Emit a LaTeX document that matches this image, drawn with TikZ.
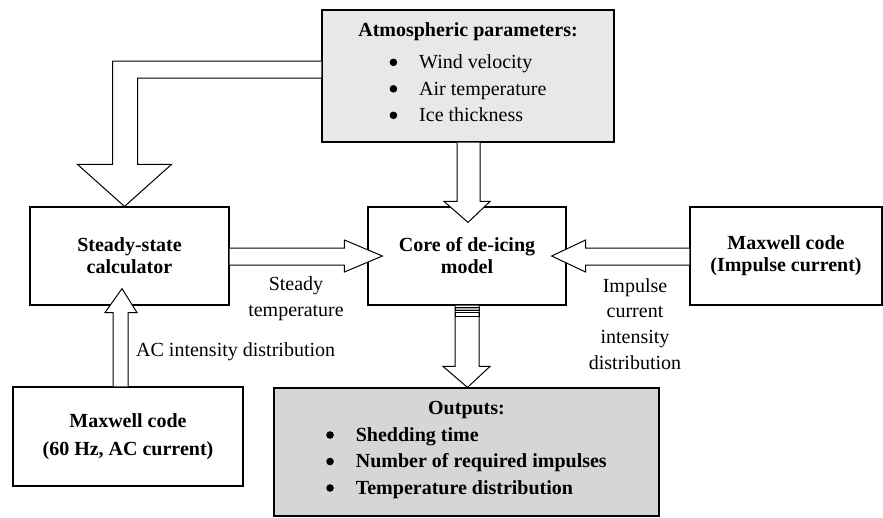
\documentclass[tikz,border=0pt]{standalone}
\usepackage{fontspec}
\setmainfont{Liberation Serif}
\usepackage{tikz}
\usetikzlibrary{calc}
\definecolor{ParamGray}{gray}{0.91}
\definecolor{OutputGray}{gray}{0.84}
\newcommand{\listdot}{\tikz[baseline=-0.32em]\fill[black] (0,0) circle (3.8pt);}
\tikzset{
  % Box styles
  modelbox/.style={rectangle, draw=black, line width=1.2pt, fill=white, inner sep=0pt, align=center, font=\fontsize{20}{22}\selectfont\bfseries},
  parambox/.style={modelbox, fill=ParamGray, font=\fontsize{20}{26.5}\selectfont},
  outputbox/.style={modelbox, fill=OutputGray, font=\fontsize{20}{26.5}\selectfont\bfseries},
  % Label style
  flowlabel/.style={inner sep=0pt, align=center, font=\fontsize{20}{26}\selectfont},
  % Arrow styles
  blockarrow/.style={draw=black, fill=white, line width=1pt, line join=miter}
}

\begin{document}
\begin{tikzpicture}[x=1pt, y=-1pt]
  \useasboundingbox (0,0) rectangle (883,517);

  % Inputs
  \node[parambox, minimum width=292pt, minimum height=132pt] (atmos) at (468,76)
    {\textbf{Atmospheric parameters:}\\[6pt]
     \begin{tabular}[t]{@{}l@{\hspace{22pt}}l@{}}\listdot & Wind velocity\\ \listdot & Air temperature\\ \listdot & Ice thickness\end{tabular}};
  \node[modelbox, minimum width=230pt, minimum height=99pt, font=\fontsize{20}{28}\selectfont\bfseries] (maxac) at (128,436.5) {Maxwell code\\(60 Hz, AC current)};
  \node[modelbox, minimum width=192pt, minimum height=98pt] (maximp) at (786,256) {Maxwell code\\(Impulse current)};

  % Calculators
  \node[modelbox, minimum width=199pt, minimum height=98pt] (steady) at (129.5,256) {Steady-state\\calculator};
  \node[modelbox, minimum width=198pt, minimum height=98pt] (core) at (467,256) {Core of de-icing\\model};

  % Results
  \node[outputbox, minimum width=385pt, minimum height=128pt] (outputs) at (466.5,452)
    {Outputs:\\
     \begin{tabular}[t]{@{}l@{\hspace{22pt}}l@{}}\listdot & Shedding time\\ \listdot & Number of required impulses\\ \listdot & Temperature distribution\end{tabular}};

  % Block arrows
  \draw[blockarrow] ($(atmos.west)+(0,-15)$) -| ($(steady.north)+(-17,-42)$) -- ($(steady.north)+(-52,-42)$)
    -- ($(steady.north)+(-5,0)$) -- ($(steady.north)+(42,-42)$) -- ($(steady.north)+(8,-42)$) |- ($(atmos.west)+(0,2)$);
  \draw[blockarrow] ($(atmos.south)+(-11,0)$) |- ($(core.north)+(-23,-5)$) -- ($(core.north)+(1,16)$)
    -- ($(core.north)+(23,-5)$) -| ($(atmos.south)+(12,0)$);
  \draw[blockarrow] ($(steady.east)+(0,-8)$) -- ($(core.west)+(-23,-8)$) -- ($(core.west)+(-23,-16)$)
    -- ($(core.west)+(15,0)$) -- ($(core.west)+(-23,16)$) -- ($(core.west)+(-23,9)$) -- ($(steady.east)+(0,9)$);
  \draw[blockarrow] ($(maximp.west)+(0,-8)$) -- ($(core.east)+(19,-8)$) -- ($(core.east)+(19,-16)$)
    -- ($(core.east)+(-15,0)$) -- ($(core.east)+(19,16)$) -- ($(core.east)+(19,9)$) -- ($(maximp.west)+(0,9)$);
  \draw[blockarrow] ($(core.south)+(-12,0)$) -- ($(outputs.north)+(-11.5,-21)$) -- ($(outputs.north)+(-23.5,-21)$)
    -- ($(outputs.north)+(1,0)$) -- ($(outputs.north)+(23.5,-21)$) -- ($(outputs.north)+(12.5,-21)$) -- ($(core.south)+(12,0)$);
  \draw[line width=0.8pt, fill=gray!60] ($(core.south)+(-12,2)$) rectangle ($(core.south)+(12,5)$);
  \draw[line width=0.8pt] ($(core.south)+(-12,7)$) rectangle ($(core.south)+(12,11)$);
  \draw[blockarrow] ($(maxac.north)+(-15,0)$) -- ($(steady.south)+(-16.5,7)$) -- ($(steady.south)+(-24.5,7)$)
    -- ($(steady.south)+(-7.5,-17)$) -- ($(steady.south)+(7.5,7)$) -- ($(steady.south)+(-1.5,7)$) -- (maxac.north);

  % Arrow labels
  \node[flowlabel] (steadylbl) at (296,299) {Steady\\temperature};
  \node[flowlabel, anchor=west] (aclbl) at (136,352) {AC intensity distribution};
  \node[flowlabel, font=\fontsize{20}{25.7}\selectfont] (implbl) at (635,324) {Impulse\\current\\intensity\\distribution};
\end{tikzpicture}
\end{document}
